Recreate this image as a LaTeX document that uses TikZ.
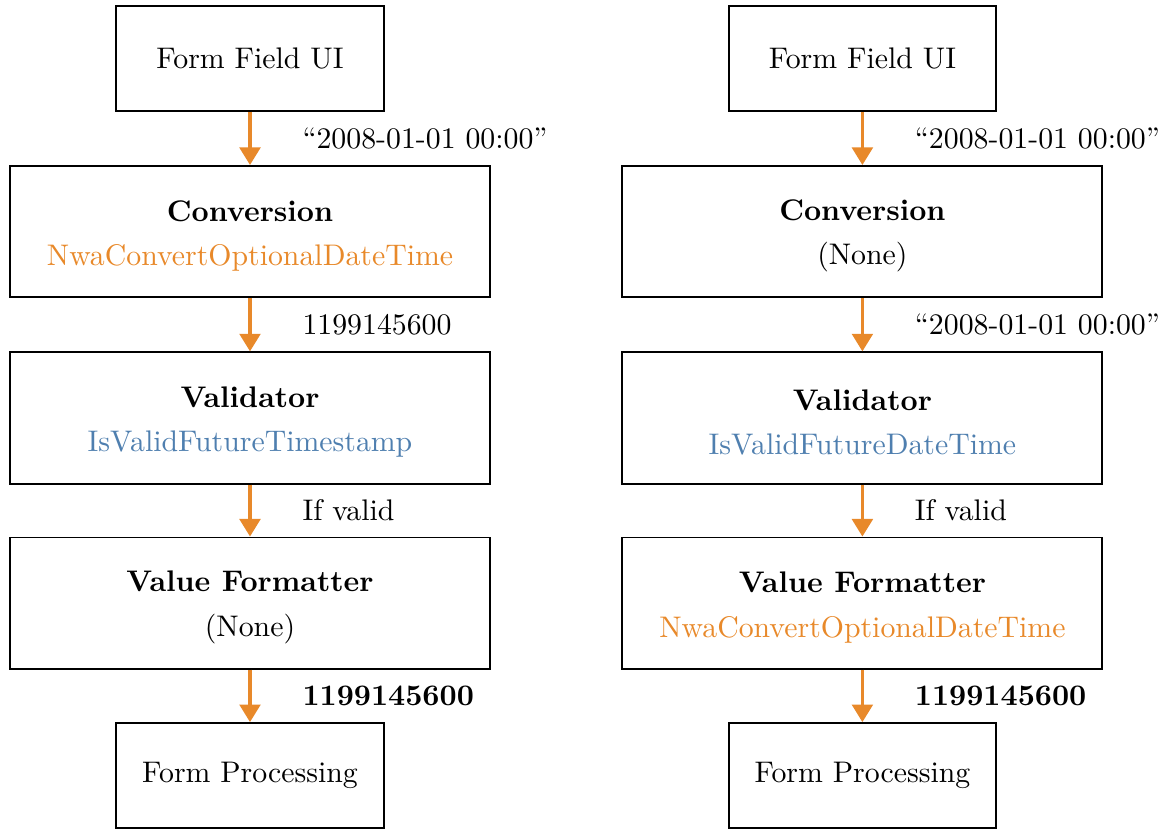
\documentclass[tikz,border=0pt]{standalone}
\usepackage{tikz}
\usetikzlibrary{positioning,arrows.meta}
\definecolor{flowor}{RGB}{232,137,42}
\definecolor{flowbl}{RGB}{79,127,175}
\newcommand{\stagetitle}[1]{\rule{0pt}{10.4pt}\textbf{#1}}

\begin{document}
\begin{tikzpicture}[>={Triangle[length=2.2mm,width=2.6mm]},
  every node/.style={font=\fontsize{10.6pt}{12.8pt}\selectfont},
  stage/.style={draw, line width=0.7pt, minimum width=60mm, minimum height=16.4mm,
                inner sep=0pt, align=center},
  endpt/.style={draw, line width=0.7pt, minimum width=33.4mm, minimum height=13.1mm, inner sep=0pt},
  flow/.style={->, flowor, line width=1.1pt},
  tag/.style={anchor=west, xshift=5.2mm, text=black}]
  \useasboundingbox (0,0) rectangle (14.55,-10.3875);

  % timestamp column
  \node[endpt] (uiA) at (3.125,-0.73) {Form Field UI};
  \node[stage, below=6.65mm of uiA] (convA)
    {\stagetitle{Conversion}\\[3pt]\textcolor{flowor}{NwaConvertOptionalDateTime}};
  \node[stage, below=6.65mm of convA] (validA)
    {\stagetitle{Validator}\\[3pt]\textcolor{flowbl}{IsValidFutureTimestamp}};
  \node[stage, below=6.5mm of validA] (fmtA)
    {\stagetitle{Value Formatter}\\[3pt](None)};
  \node[endpt, below=6.55mm of fmtA] (procA) {Form Processing};

  % date-time column
  \node[endpt] (uiB) at (10.78,-0.73) {Form Field UI};
  \node[stage, below=6.65mm of uiB] (convB)
    {\stagetitle{Conversion}\\[3pt](None)};
  \node[stage, below=6.65mm of convB] (validB)
    {\stagetitle{Validator}\\[3pt]\textcolor{flowbl}{IsValidFutureDateTime}};
  \node[stage, below=6.5mm of validB] (fmtB)
    {\stagetitle{Value Formatter}\\[3pt]\textcolor{flowor}{NwaConvertOptionalDateTime}};
  \node[endpt, below=6.55mm of fmtB] (procB) {Form Processing};

  \draw[flow] (uiA) -- node[tag] {``2008-01-01 00:00''} (convA);
  \draw[flow] (convA) -- node[tag] {1199145600} (validA);
  \draw[flow] (validA) -- node[tag] {If valid} (fmtA);
  \draw[flow] (fmtA) -- node[tag] {\textbf{1199145600}} (procA);

  \draw[flow] (uiB) -- node[tag] {``2008-01-01 00:00''} (convB);
  \draw[flow] (convB) -- node[tag] {``2008-01-01 00:00''} (validB);
  \draw[flow] (validB) -- node[tag] {If valid} (fmtB);
  \draw[flow] (fmtB) -- node[tag] {\textbf{1199145600}} (procB);
\end{tikzpicture}
\end{document}
